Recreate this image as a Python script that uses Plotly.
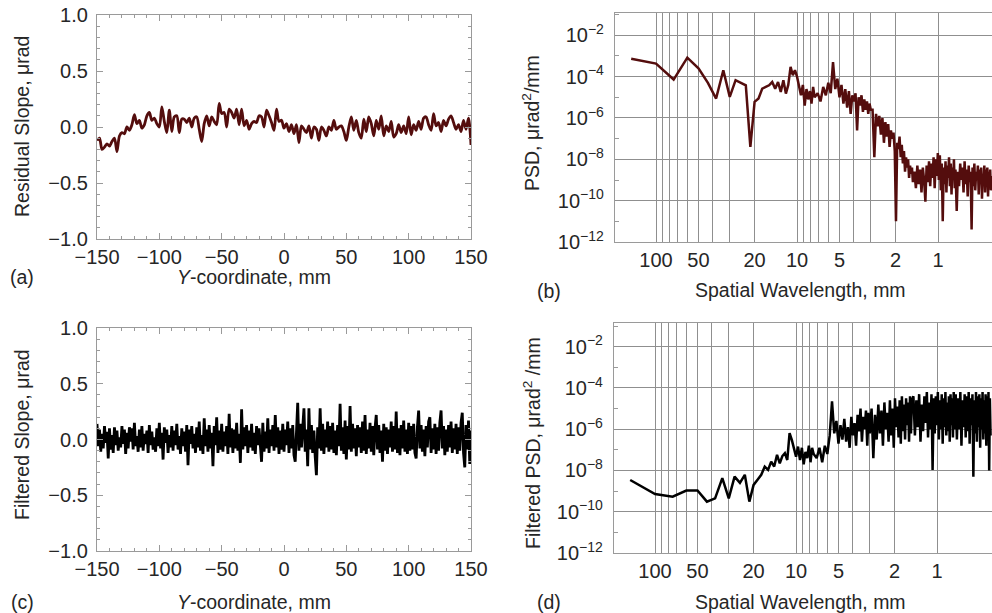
import numpy as np
import plotly.graph_objects as go

W, H = 992, 613

# ---------------- data ----------------
# (a) residual slope, urad, sampled every 2 mm from -150 to 150
residual_slope = [
    -0.12, -0.10, -0.20, -0.18, -0.15, -0.17, -0.13, -0.10, -0.22, -0.08,
    -0.05, -0.06, 0.00, -0.03, 0.02, 0.11, 0.03, 0.06, -0.01, 0.02,
    0.10, 0.13, 0.06, 0.08, 0.03, 0.00, 0.18, 0.05, -0.05, 0.15,
    -0.04, 0.09, 0.10, -0.05, 0.07, 0.07, 0.04, 0.08, 0.00, 0.08,
    0.09, -0.02, -0.13, 0.03, 0.10, 0.01, 0.09, 0.05, 0.02, 0.21,
    0.12, 0.13, 0.00, 0.16, 0.13, 0.08, 0.16, 0.02, 0.16, 0.01,
    0.06, -0.02, 0.03, 0.05, 0.04, 0.10, 0.09, 0.00, 0.15, 0.10,
    0.04, -0.03, 0.16, 0.05, 0.06, -0.01,
    0.03, -0.04, 0.02, -0.06, 0.02, -0.14, 0.01, -0.02, -0.05, 0.01,
    -0.10, 0.00, -0.02, -0.12, 0.00, -0.03, -0.08, 0.00, -0.03, 0.06,
    -0.02, 0.00, 0.01, -0.04, -0.12, 0.00, 0.09, -0.03, 0.06, -0.05,
    -0.10, 0.07, -0.04, 0.09, 0.03, -0.08, 0.06, -0.02, 0.10, -0.08,
    0.01, -0.04, 0.05, -0.09, -0.06, 0.02, -0.05, 0.01, -0.06, 0.09,
    -0.07, 0.02, -0.03, 0.05, -0.02, 0.08, 0.09, 0.02, -0.03, 0.12,
    0.01, 0.04, -0.04, 0.06, 0.01, 0.07, 0.10, 0.04, -0.02, 0.02,
    -0.04, 0.06, -0.02, 0.08, -0.16,
]

# (c) filtered slope, urad, sampled every 1 mm from -150 to 150
filtered_slope = [
    0.14, -0.06, 0.09, -0.11, 0.05, -0.08, 0.12, -0.03, 0.07, -0.17,
    0.10, -0.09, 0.04, -0.12, 0.11, -0.05, 0.08, -0.10, 0.02, -0.07,
    0.12, -0.04, 0.09, -0.13, 0.06, -0.08, 0.11, -0.02, 0.10, -0.09,
    0.15, -0.06, 0.03, -0.11, 0.09, -0.07, 0.12, -0.10, 0.05, -0.04,
    0.08, -0.12, 0.13, -0.05, 0.07, -0.09, 0.02, -0.11, 0.10, -0.06,
    0.15, -0.08, 0.06, -0.18, 0.11, -0.03, 0.09, -0.12, 0.04, -0.07,
    0.12, -0.10, 0.08, -0.05, 0.14, -0.09, 0.03, -0.13, 0.10, -0.06,
    0.07, -0.11, 0.13, -0.23, 0.09, -0.04, 0.12, -0.08, 0.05, -0.12,
    0.11, -0.07, 0.16, -0.10, 0.04, -0.13, 0.19, -0.06, 0.09, -0.11,
    0.13, -0.08, 0.06, -0.24, 0.12, -0.05, 0.20, -0.12, 0.08, -0.09,
    0.14, -0.11, 0.07, -0.06, 0.12, -0.13, 0.23, -0.07, 0.10, -0.12,
    0.09, -0.08, 0.15, -0.10, 0.05, -0.21, 0.27, -0.09, 0.11, -0.06,
    0.13, -0.12, 0.08, -0.07, 0.14, -0.10, 0.06, -0.13, 0.12, -0.05,
    0.10, -0.09, -0.20, 0.15, -0.11, 0.07, -0.08, 0.19, -0.12, 0.09,
    -0.06, 0.13, -0.10, 0.22, -0.07, 0.11, -0.13, 0.08, -0.09, 0.14,
    -0.11, 0.09, -0.05, 0.16, -0.12, 0.10, -0.08, 0.13, -0.14, -0.20,
    0.18, 0.33, -0.10, 0.14, -0.07, 0.12, 0.28, -0.11, 0.09, -0.24,
    0.28, -0.09, 0.13, -0.12, 0.08, -0.15, -0.32, 0.11, -0.08, 0.28,
    -0.10, 0.14, -0.13, 0.09, -0.07, 0.16, -0.11, 0.12, -0.09, 0.15,
    -0.12, 0.08, -0.14, 0.13, -0.06, 0.32, -0.10, 0.11, -0.13, 0.17,
    -0.18, 0.12, -0.09, 0.30, -0.11, 0.14, -0.08, 0.10, -0.15, 0.13,
    -0.07, 0.11, -0.12, 0.16, -0.10, 0.22, -0.13, 0.09, -0.08, 0.15,
    -0.11, 0.12, -0.14, 0.10, 0.22, -0.09, 0.13, -0.12, 0.08, -0.20,
    0.14, -0.10, 0.11, -0.13, 0.09, -0.07, 0.16, -0.11, 0.12, -0.09,
    0.25, -0.12, 0.10, -0.14, 0.13, -0.08, 0.17, -0.11, 0.09, -0.13,
    0.15, -0.10, 0.12, -0.09, 0.14, -0.12, -0.17, 0.11, 0.26, -0.08,
    0.13, -0.11, 0.09, -0.15, 0.12, -0.07, 0.16, 0.20, -0.12, 0.10,
    -0.09, 0.14, -0.13, 0.11, -0.10, 0.15, 0.26, -0.08, 0.12, -0.14,
    0.09, -0.11, 0.13, -0.07, 0.16, -0.12, 0.10, -0.09, 0.14, -0.13,
    0.11, -0.10, 0.15, 0.24, -0.12, -0.25, 0.13, -0.09, 0.17, -0.22,
    0.08,
]

# PSD sampling: spatial-frequency index k (frequency = k / scan length)
SCAN_LENGTH_MM = 300.0
psd_k = (list(range(2, 41)) + list(range(42, 101, 2)) + list(range(103, 200, 3))
         + list(range(204, 400, 5)) + list(range(407, 720, 8)))

# (b) log10 PSD, urad^2/mm
psd_log10 = [
    -3.13, -3.37, -4.14, -3.08, -3.6, -4.3, -5.06, -3.69, -4.98, -4.17,
    -4.3, -4.42, -7.4, -5.22, -5.06, -4.58, -4.5, -4.42, -4.26, -4.58,
    -4.26, -4.74, -4.17, -4.82, -4.4, -3.53, -3.93, -3.69, -4.0, -4.42,
    -4.9, -4.4, -5.4, -4.6, -5.1, -4.7, -5.3, -4.5, -5.0,
    # k 42..100 step 2
    -4.8, -5.2, -4.5, -4.9, -4.3, -4.8, -3.3, -4.6, -4.1, -5.0,
    -4.4, -5.3, -4.6, -5.5, -4.7, -5.8, -4.9, -5.2, -4.8, -6.6,
    -5.0, -5.4, -4.9, -5.7, -5.1, -5.6, -5.2, -5.8, -5.3, -5.6,
    # k 103..199 step 3
    -5.6, -7.9, -5.8, -6.4, -5.9, -6.8, -6.0, -7.2, -6.2, -6.9,
    -6.3, -7.4, -6.6, -7.0, -6.7, -7.6, -11.0, -7.2, -7.5, -6.9,
    -7.9, -7.3, -8.2, -7.6, -8.6, -7.9, -8.4, -8.0, -8.9, -8.3,
    -8.7, -8.4, -9.1,
    # k 204..399 step 5
    -8.6, -9.4, -8.3, -9.2, -8.5, -9.6, -8.4, -9.0, -10.05, -8.3,
    -9.1, -8.1, -9.3, -8.2, -8.9, -7.9, -9.4, -8.0, -8.8, -7.7,
    -9.0, -7.8, -9.5, -8.2, -11.0, -8.4, -9.2, -8.1, -9.6, -8.3,
    -8.9, -7.9, -9.3, -8.2, -9.7, -8.4, -9.0, -8.0, -9.4, -8.5,
    # k 407..719 step 8
    -10.5, -8.6, -9.3, -8.2, -9.0, -8.4, -9.6, -8.1, -9.2, -8.5,
    -9.8, -8.3, -9.1, -8.6, -11.4, -8.4, -9.3, -8.2, -9.5, -8.6,
    -9.0, -8.3, -9.7, -8.5, -9.2, -8.4, -9.9, -8.7, -9.1, -8.3,
    -9.6, -8.5, -9.2, -8.4, -9.8, -8.6, -9.3, -8.5, -9.5, -8.8,
]

# (d) log10 filtered PSD, urad^2/mm
filtered_psd_log10 = [
    -8.46, -9.14, -9.27, -8.97, -8.97, -9.51, -9.35, -8.37, -9.35, -8.30,
    -8.6, -8.21, -9.51, -8.7, -8.45, -8.21, -7.81, -7.97, -7.57, -7.81,
    -7.24, -7.65, -7.3, -7.16, -7.49, -6.19, -6.52, -7.0, -7.33, -6.84,
    -7.5, -6.9, -7.7, -7.1, -7.4, -6.8, -7.6, -6.9, -7.2,
    # k 42..100 step 2
    -7.4, -6.9, -7.6, -6.8, -7.2, -6.3, -4.65, -6.2, -5.6, -6.7,
    -5.8, -6.5, -5.5, -6.6, -5.9, -6.9, -5.4, -6.3, -5.7, -6.8,
    -5.3, -6.1, -5.0, -6.6, -5.4, -6.0, -5.1, -6.8, -5.2, -6.2,
    # k 103..199 step 3
    -5.0, -7.4, -5.3, -6.5, -4.8, -6.2, -5.1, -6.8, -4.7, -6.0,
    -5.2, -6.6, -4.6, -6.3, -5.0, -6.9, -4.5, -5.9, -4.9, -6.4,
    -4.6, -6.7, -4.4, -6.1, -4.8, -6.5, -4.5, -5.8, -4.7, -6.6,
    -4.4, -6.2, -4.6,
    # k 204..399 step 5
    -4.4, -6.3, -4.6, -5.9, -4.3, -6.6, -4.8, -6.1, -4.4, -5.7,
    -4.2, -6.4, -4.7, -6.0, -4.3, -7.97, -4.5, -6.2, -4.4, -5.8,
    -4.2, -6.5, -4.6, -6.0, -4.3, -6.7, -4.5, -5.9, -4.2, -6.3,
    -4.7, -6.1, -4.4, -6.6, -4.3, -5.8, -4.5, -6.4, -4.2, -6.0,
    # k 407..719 step 8
    -4.3, -6.5, -4.5, -6.0, -4.2, -6.8, -4.6, -5.9, -4.3, -6.4,
    -4.4, -6.1, -4.2, -6.7, -4.5, -5.8, -4.3, -8.3, -4.6, -6.2,
    -4.2, -6.6, -4.4, -5.9, -4.3, -6.9, -4.5, -6.0, -4.2, -6.5,
    -4.6, -6.2, -4.3, -6.8, -4.4, -5.9, -4.2, -8.0, -4.5, -6.3,
]

# axis ticks
slope_xticks = [-150, -100, -50, 0, 50, 100, 150]
slope_yticks = [-1.0, -0.5, 0.0, 0.5, 1.0]
wl_grid = [100, 90, 80, 70, 60, 50, 40, 30, 20, 10, 9, 8, 7, 6, 5, 4, 3, 2, 1]
wl_labels = ["100", "", "", "", "", "50", "", "", "20", "10", "", "", "", "", "5", "", "", "2", "1"]
psd_exps = [-12, -10, -8, -6, -4, -2]
psd_minor_exps = [-11, -9, -7, -5, -3, -1]

assert len(psd_k) == len(psd_log10) == len(filtered_psd_log10), (len(psd_k), len(psd_log10), len(filtered_psd_log10))

# ---------------- figure ----------------
x_a = np.linspace(-150, 150, len(residual_slope))
x_c = np.linspace(-150, 150, len(filtered_slope))
wavelength = [SCAN_LENGTH_MM / k for k in psd_k]
psd = [10 ** v for v in psd_log10]
fpsd = [10 ** v for v in filtered_psd_log10]

MAROON = "#540d0d"
FONT = "Liberation Sans, Arial, sans-serif"
FRAME = "#9a9a9a"
GRID = "#8f8f8f"
TXT = "#262626"

fig = go.Figure()
fig.add_trace(go.Scatter(x=x_a, y=residual_slope, mode="lines",
                         line=dict(color=MAROON, width=2.8, shape="spline", smoothing=0.8),
                         xaxis="x", yaxis="y"))
fig.add_trace(go.Scatter(x=wavelength, y=psd, mode="lines", line=dict(color=MAROON, width=2.5),
                         xaxis="x2", yaxis="y2"))
fig.add_trace(go.Scatter(x=x_c, y=filtered_slope, mode="lines", line=dict(color="black", width=2.8),
                         xaxis="x3", yaxis="y3"))
fig.add_trace(go.Scatter(x=wavelength, y=fpsd, mode="lines", line=dict(color="black", width=2.5),
                         xaxis="x4", yaxis="y4"))


def px_x(p):
    return p / W


def px_y(p):
    return 1 - p / H


def fmt(v):
    s = f"{abs(v):.1f}" if isinstance(v, float) else f"{abs(v)}"
    return ("\u2212" + s) if v < 0 else s


tickfont = dict(family=FONT, size=20, color=TXT)

slope_x = dict(range=[-150, 150], tickvals=slope_xticks, ticktext=[fmt(v) for v in slope_xticks],
               ticks="inside", ticklen=6, tickcolor=FRAME, showline=True, linecolor=FRAME, linewidth=1.3,
               mirror="allticks", showgrid=False, zeroline=False, tickfont=tickfont, automargin=False,
               minor=dict(dtick=10, ticks="inside", ticklen=3, tickcolor=FRAME, showgrid=False))
slope_y = dict(range=[-1, 1], tickvals=slope_yticks, ticktext=[fmt(v) for v in slope_yticks],
               ticks="inside", ticklen=6, tickcolor=FRAME, showline=True, linecolor=FRAME, linewidth=1.3,
               mirror="allticks", showgrid=False, zeroline=False, tickfont=tickfont, ticklabelstandoff=4,
               automargin=False,
               minor=dict(dtick=0.1, ticks="inside", ticklen=3, tickcolor=FRAME, showgrid=False))

psd_x = dict(type="log", tickvals=wl_grid, ticktext=wl_labels, ticks="", showline=True, linecolor=FRAME,
             linewidth=1.3, mirror=True, showgrid=True, gridcolor=GRID, gridwidth=1.3, zeroline=False,
             tickfont=tickfont, automargin=False)
psd_y = dict(type="log", tickvals=[10.0 ** e for e in psd_exps],
             ticktext=[f"10<sup>\u2212{-e}</sup>" for e in psd_exps],
             ticks="", showline=True, linecolor=FRAME, linewidth=1.3, mirror=False,
             showgrid=True, gridcolor=GRID, gridwidth=1.3, zeroline=False, tickfont=tickfont,
             ticklabelstandoff=6, automargin=False,
             minor=dict(tickvals=[10.0 ** e for e in psd_minor_exps], ticks="inside", ticklen=4,
                        tickcolor=FRAME, showgrid=False))

LOG_LEFT = 2.291   # log10 of the wavelength at the left frame edge
PX_PER_DECADE = 141.0

fig.update_layout(
    template="none",
    width=W, height=H, margin=dict(l=0, r=0, t=0, b=0, pad=0, autoexpand=False),
    paper_bgcolor="white", plot_bgcolor="white", showlegend=False,
    font=dict(family=FONT, color=TXT),
    xaxis=dict(slope_x, domain=[px_x(97), px_x(471)], anchor="y"),
    yaxis=dict(slope_y, domain=[px_y(239), px_y(15)], anchor="x"),
    xaxis2=dict(psd_x, domain=[px_x(615), 1.0], anchor="y2",
                range=[LOG_LEFT, LOG_LEFT - 377 / PX_PER_DECADE]),
    yaxis2=dict(psd_y, domain=[px_y(242), px_y(13)], anchor="x2", range=[-12, -0.92]),
    xaxis3=dict(slope_x, domain=[px_x(97), px_x(471)], anchor="y3"),
    yaxis3=dict(slope_y, domain=[px_y(551), px_y(328)], anchor="x3"),
    xaxis4=dict(psd_x, domain=[px_x(614), 1.0], anchor="y4",
                range=[LOG_LEFT, LOG_LEFT - 378 / PX_PER_DECADE]),
    yaxis4=dict(psd_y, domain=[px_y(553), px_y(323)], anchor="x4", range=[-12, -0.85]),
)

titlefont = dict(family=FONT, size=19.5, color=TXT)
ann = [
    ("Residual Slope, \u03bcrad", 22, 127, -90),
    ("Filtered Slope, \u03bcrad", 22, 435, -90),
    ("PSD, \u03bcrad<sup>2</sup>/mm", 531, 123, -90),
    ("Filtered PSD, \u03bcrad<sup>2</sup> /mm", 532, 443, -90),
    ("<i>Y</i>-coordinate, mm", 254, 277, 0),
    ("<i>Y</i>-coordinate, mm", 254, 602, 0),
    ("Spatial Wavelength, mm", 800, 290, 0),
    ("Spatial Wavelength, mm", 800, 602, 0),
    ("(a)", 22, 277, 0),
    ("(b)", 549, 291, 0),
    ("(c)", 22, 602, 0),
    ("(d)", 549, 602, 0),
]
for text, x, y, ang in ann:
    fig.add_annotation(text=text, x=px_x(x), y=px_y(y), xref="paper", yref="paper",
                       xanchor="center", yanchor="middle", showarrow=False, textangle=ang,
                       font=titlefont)

fig.write_html("out.html")
